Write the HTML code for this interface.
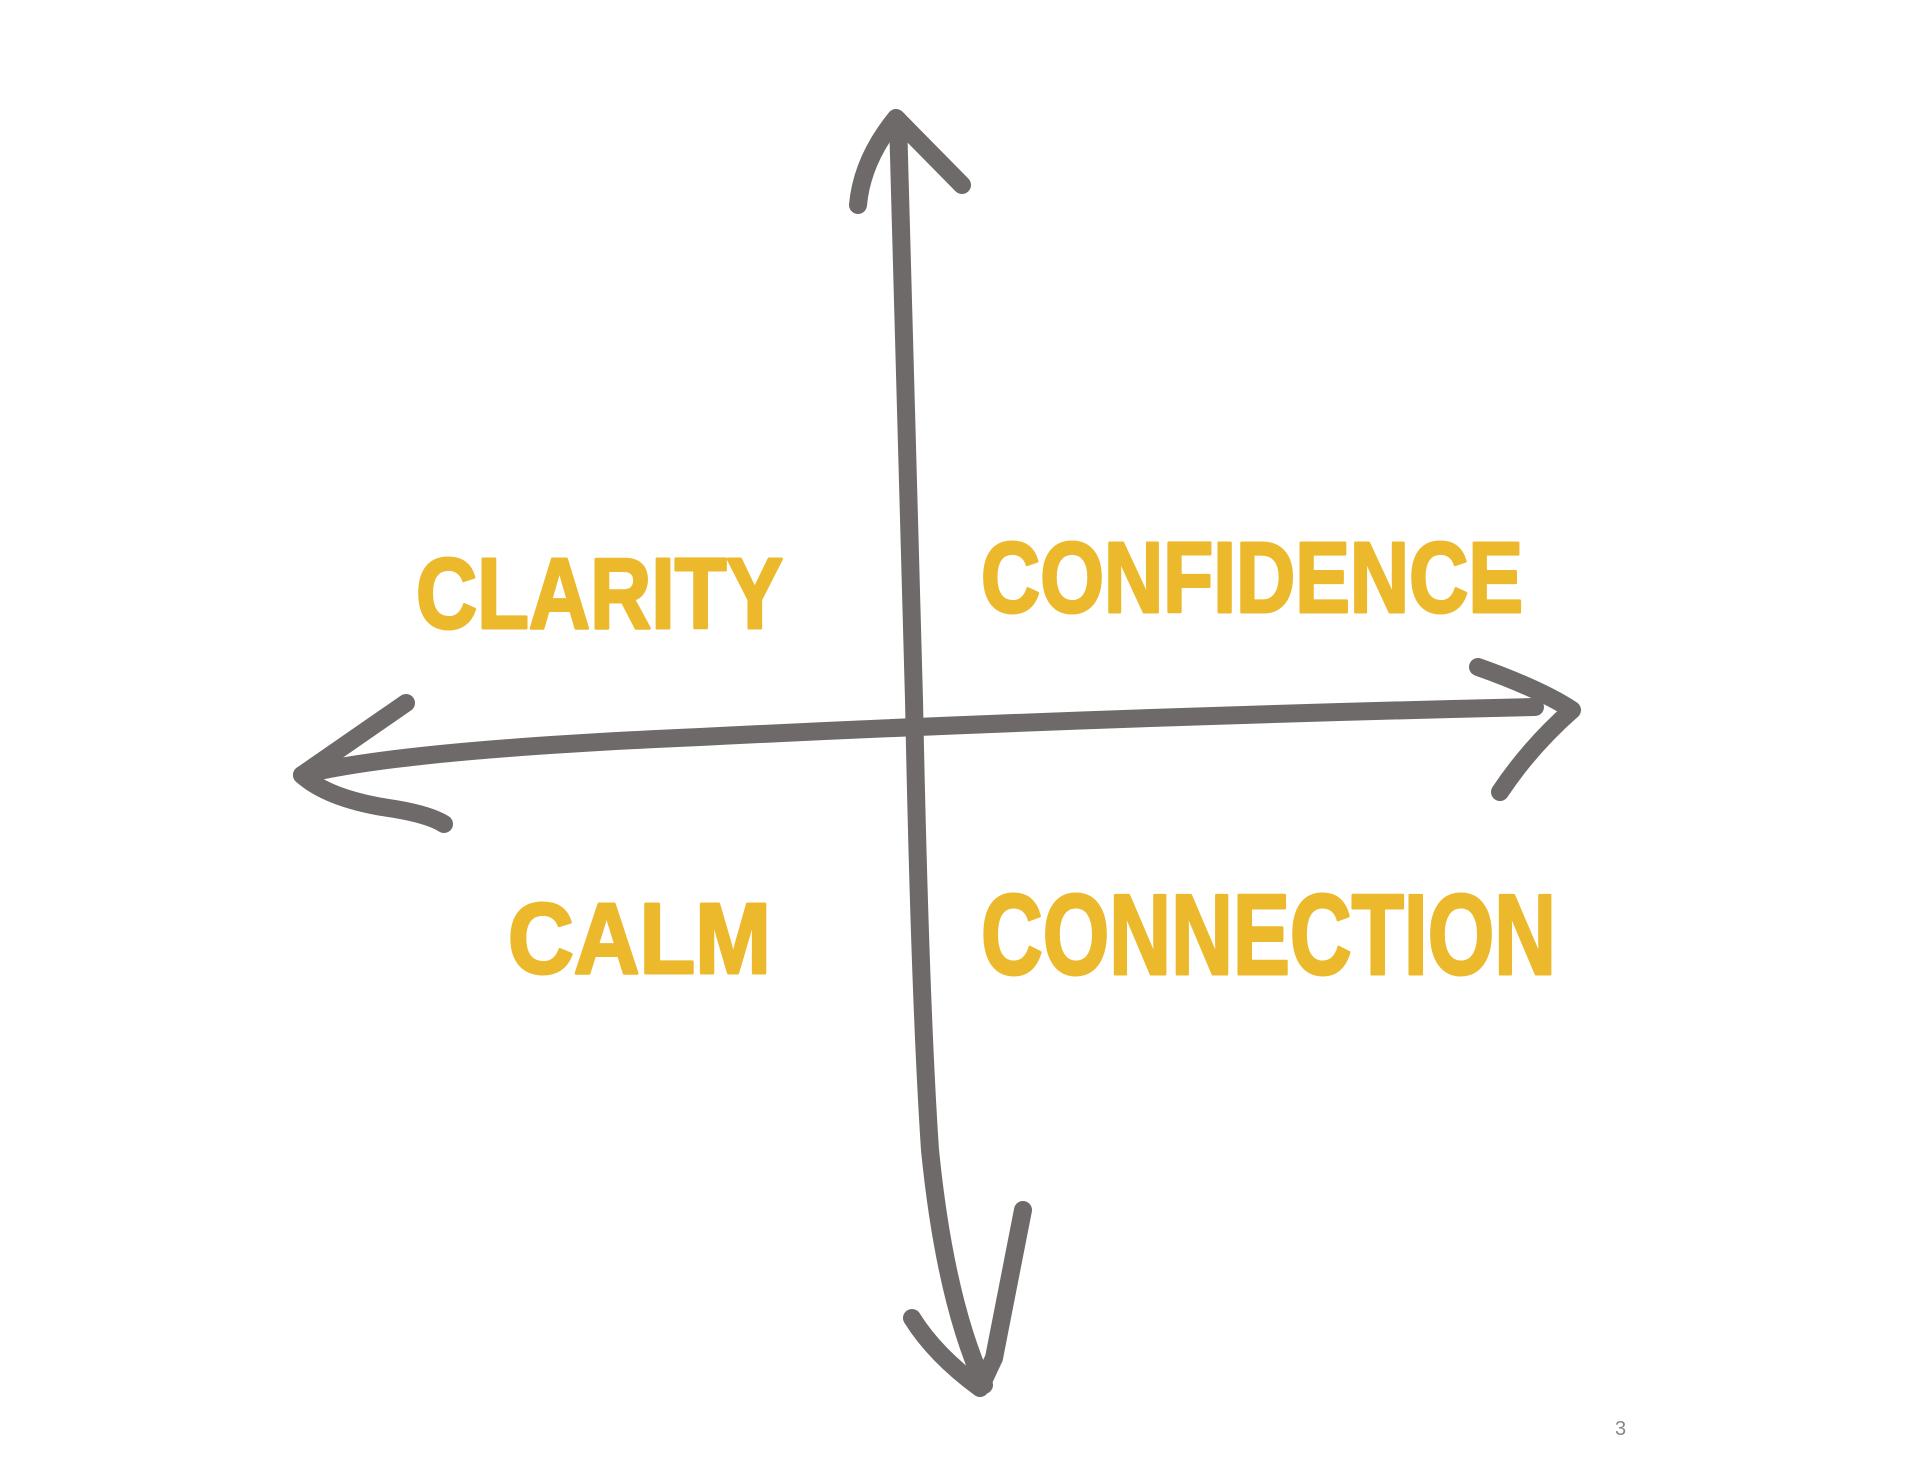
<!DOCTYPE html>
<html><head><meta charset="utf-8"><style>
html,body{margin:0;padding:0;background:#fff;}
svg{display:block;}
text.t{font-family:"Liberation Sans Narrow","Liberation Sans",sans-serif;font-weight:bold;fill:#ECB92D;stroke:#ECB92D;stroke-width:3;stroke-linejoin:round;}
</style></head><body>
<svg width="1907" height="1481" viewBox="0 0 1907 1481" xmlns="http://www.w3.org/2000/svg">
<g fill="none" stroke="#6E6A69" stroke-width="18" stroke-linecap="round" stroke-linejoin="round">
  <path d="M898 120 Q905 400 914 700 Q920 1000 930 1150 Q945 1300 984 1385"/>
  <path d="M858 205 Q862 160 896 118 L962 185"/>
  <path d="M912 1318 Q935 1355 980 1388 L994 1358"/>
  <path d="M1023 1210 L994 1358"/>
  <path d="M302 775 Q400 750 700 737 Q1100 717 1535 707"/>
  <path d="M406 703 L302 775 Q330 800 395 809 Q430 815 444 824"/>
  <path d="M1478 667 Q1540 689 1572 710 Q1530 747 1500 792"/>
</g>
<text class="t" x="416" y="628" font-size="100" textLength="367" lengthAdjust="spacingAndGlyphs">CLARITY</text>
<text class="t" x="981" y="612" font-size="100" textLength="542" lengthAdjust="spacingAndGlyphs">CONFIDENCE</text>
<text class="t" x="508" y="973" font-size="100" textLength="263" lengthAdjust="spacingAndGlyphs">CALM</text>
<text class="t" x="981" y="974" font-size="114" textLength="575" lengthAdjust="spacingAndGlyphs">CONNECTION</text>
<text x="1615" y="1435" font-size="20" style="font-family:'Liberation Sans',sans-serif;fill:#888;">3</text>
</svg>
</body></html>
